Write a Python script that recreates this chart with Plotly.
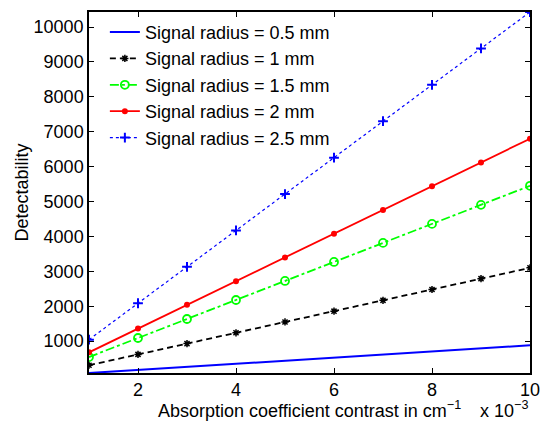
import plotly.graph_objects as go

x_vals = [1, 2, 3, 4, 5, 6, 7, 8, 9, 10]  # in units of 1e-3 cm^-1
r05 = [88, 176, 264, 352, 440, 528, 616, 704, 792, 880]
r10 = [310, 620, 930, 1240, 1550, 1860, 2170, 2480, 2790, 3100]
r15 = [545, 1090, 1635, 2180, 2725, 3270, 3815, 4360, 4905, 5450]
r20 = [680, 1360, 2040, 2720, 3400, 4080, 4760, 5440, 6120, 6800]
r25 = [1043, 2086, 3129, 4172, 5215, 6258, 7301, 8344, 9387, 10430]

x_ticks = [2, 4, 6, 8, 10]
y_ticks = [1000, 2000, 3000, 4000, 5000, 6000, 7000, 8000, 9000, 10000]

names = ["Signal radius = 0.5 mm", "Signal radius = 1 mm", "Signal radius = 1.5 mm",
         "Signal radius = 2 mm", "Signal radius = 2.5 mm"]

FONT = "Liberation Sans, Arial, Helvetica, sans-serif"
FS = 18
fig = go.Figure()
fig.add_trace(go.Scatter(x=x_vals, y=r05, name=names[0], mode="lines",
                         line=dict(color="#0000ff", width=2)))
fig.add_trace(go.Scatter(x=x_vals, y=r10, name=names[1], mode="lines+markers",
                         line=dict(color="#000000", width=1.8, dash="6px,4px"),
                         marker=dict(symbol="asterisk-open", size=6, color="#000000",
                                     line=dict(width=1.5, color="#000000"))))
fig.add_trace(go.Scatter(x=x_vals, y=r15, name=names[2], mode="lines+markers",
                         line=dict(color="#00ff00", width=1.8, dash="dashdot"),
                         marker=dict(symbol="circle-open", size=8, color="#00ff00",
                                     line=dict(width=1.8, color="#00ff00"))))
fig.add_trace(go.Scatter(x=x_vals, y=r20, name=names[3], mode="lines+markers",
                         line=dict(color="#ff0000", width=1.8),
                         marker=dict(symbol="circle", size=6, color="#ff0000")))
fig.add_trace(go.Scatter(x=x_vals, y=r25, name=names[4], mode="lines+markers",
                         line=dict(color="#0000ff", width=1.2, dash="dot"),
                         marker=dict(symbol="cross-thin-open", size=7, color="#0000ff",
                                     line=dict(width=2, color="#0000ff"))))

fig.update_layout(
    width=540, height=423,
    margin=dict(l=89, r=10, t=12, b=50, autoexpand=False),
    paper_bgcolor="white", plot_bgcolor="white",
    font=dict(family=FONT, size=FS, color="black"),
    showlegend=True,
    legend=dict(x=0.036, y=0.995, xanchor="left", yanchor="top",
                bgcolor="rgba(0,0,0,0)", borderwidth=0,
                font=dict(family=FONT, size=FS), tracegroupgap=0),
    xaxis=dict(range=[1, 10], tickvals=x_ticks, ticktext=[str(v) for v in x_ticks],
               automargin=False, ticklabeloverflow="allow",
               showgrid=False, zeroline=False, showline=True, linecolor="black", linewidth=1.5,
               mirror="ticks", ticks="inside", ticklen=5, tickcolor="black",
               tickfont=dict(size=FS)),
    yaxis=dict(range=[88, 10430], tickvals=y_ticks, ticktext=[str(v) for v in y_ticks],
               automargin=False, ticklabeloverflow="allow",
               showgrid=False, zeroline=False, showline=True, linecolor="black", linewidth=1.5,
               mirror="ticks", ticks="inside", ticklen=5, tickcolor="black",
               tickfont=dict(size=FS)),
    annotations=[
        dict(text="Absorption coefficient contrast in cm<sup>−1</sup>", xref="paper", yref="paper",
             x=0.5, y=-0.10, xanchor="center", yanchor="middle", showarrow=False,
             font=dict(size=FS)),
        dict(text="x 10<sup>−3</sup>", xref="paper", yref="paper",
             x=1.0, y=-0.10, xanchor="right", yanchor="middle", showarrow=False,
             font=dict(size=FS)),
        dict(text="Detectability", xref="paper", yref="paper", textangle=-90,
             x=-0.152, y=0.5, xanchor="center", yanchor="middle", showarrow=False,
             font=dict(size=FS)),
    ],
)

fig.write_html("out.html")
